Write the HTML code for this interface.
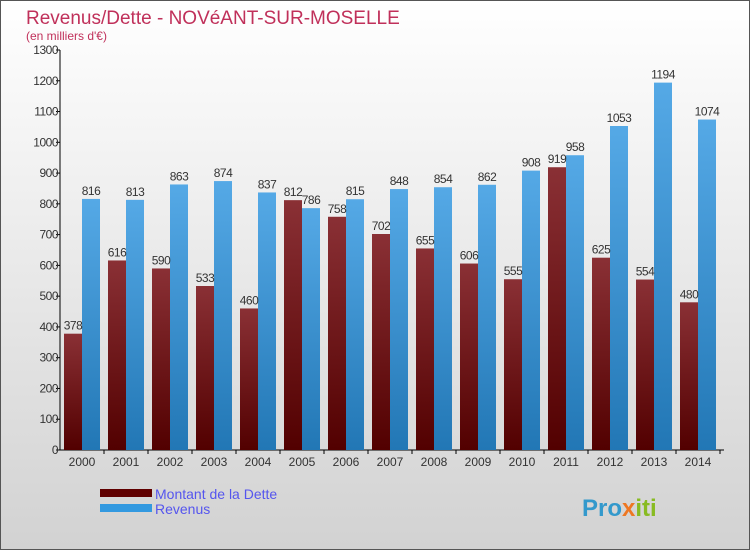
<!DOCTYPE html>
<html><head><meta charset="utf-8"><style>
body{margin:0}
svg{display:block;font-family:"Liberation Sans",sans-serif}
</style></head><body>
<svg width="750" height="550" viewBox="0 0 750 550">
<defs>
<linearGradient id="bg" x1="0" y1="0" x2="0" y2="1"><stop offset="0" stop-color="#ffffff"/><stop offset="1" stop-color="#d2d2d2"/></linearGradient>
<linearGradient id="gd" x1="0" y1="0" x2="0" y2="1"><stop offset="0" stop-color="#8a3035"/><stop offset="1" stop-color="#520000"/></linearGradient>
<linearGradient id="gr" x1="0" y1="0" x2="0" y2="1"><stop offset="0" stop-color="#55a9e6"/><stop offset="1" stop-color="#2277b5"/></linearGradient>
</defs>
<rect x="0.5" y="0.5" width="749" height="549" fill="url(#bg)" stroke="#555"/>
<text x="26" y="24" font-size="19" fill="#c0305a">Revenus/Dette - NOVéANT-SUR-MOSELLE</text>
<text x="26" y="40" font-size="12" fill="#c0305a">(en milliers d'€)</text>
<g id="axes"></g>
<g id="bars"></g>
<g>
<rect x="100" y="489" width="52" height="8" fill="#600000"/>
<text x="155" y="499" font-size="14" fill="#5555ee">Montant de la Dette</text>
<rect x="100" y="504" width="52" height="8" fill="#3399e0"/>
<text x="155" y="514" font-size="14" fill="#5555ee">Revenus</text>
</g>
<text x="582" y="516" font-size="24" font-weight="bold" fill="#3399cc">Pro<tspan fill="#ee7722">x</tspan><tspan fill="#88bb22">iti</tspan></text>
</svg>
<script>
const years=["2000","2001","2002","2003","2004","2005","2006","2007","2008","2009","2010","2011","2012","2013","2014"];
const dette=[378,616,590,533,460,812,758,702,655,606,555,919,625,554,480];
const revenus=[816,813,863,874,837,786,815,848,854,862,908,958,1053,1194,1074];
const yTicks=[0,100,200,300,400,500,600,700,800,900,1000,1100,1200,1300];
const NS="http://www.w3.org/2000/svg";
const y0=450,yTop=50,yMax=1300;
function yS(v){return y0-(v/yMax)*(y0-yTop);}
function xS(i){return 64+44*i;}
const bw=18;
function mk(tag,attrs,parent){const e=document.createElementNS(NS,tag);for(const k in attrs)e.setAttribute(k,attrs[k]);parent.appendChild(e);return e;}
const ax=document.getElementById('axes'),bars=document.getElementById('bars');
let l=mk('line',{x1:60,y1:yTop,x2:60,y2:y0,stroke:'#000'},ax);


l=mk('line',{x1:60,y1:y0,x2:724,y2:y0,stroke:'#000'},ax);


yTicks.forEach(v=>{
 const t=mk('line',{x1:56,x2:60,y1:yS(v),y2:yS(v),stroke:'#000'},ax);
 
 
 const tx=mk('text',{x:58,y:yS(v)+4,'font-size':12,'text-anchor':'end',fill:'#333','letter-spacing':'-0.5'},ax);
 tx.textContent=v;
 
 
});
years.forEach((yr,i)=>{
 const x=xS(i);
 const t=mk('text',{x:x+bw,y:466,'font-size':12,'text-anchor':'middle',fill:'#333'},ax);
 t.textContent=yr;
 
 
 const tk=mk('line',{x1:x+bw+22,x2:x+bw+22,y1:y0,y2:y0+4,stroke:'#000'},ax);
 
 
 const d=mk('rect',{x:x,y:yS(dette[i]),width:bw,height:y0-yS(dette[i]),fill:'url(#gd)'},bars);
 
 
 const r=mk('rect',{x:x+bw,y:yS(revenus[i]),width:bw,height:y0-yS(revenus[i]),fill:'url(#gr)'},bars);
 
 
 const dl=mk('text',{x:x+bw/2,y:yS(dette[i])-4,'font-size':12,'text-anchor':'middle',fill:'#333','letter-spacing':'-0.5'},bars);
 dl.textContent=dette[i];
 
 
 const rl=mk('text',{x:x+bw*1.5,y:yS(revenus[i])-4,'font-size':12,'text-anchor':'middle',fill:'#333','letter-spacing':'-0.5'},bars);
 rl.textContent=revenus[i];
 
 
});
</script>
</body></html>
